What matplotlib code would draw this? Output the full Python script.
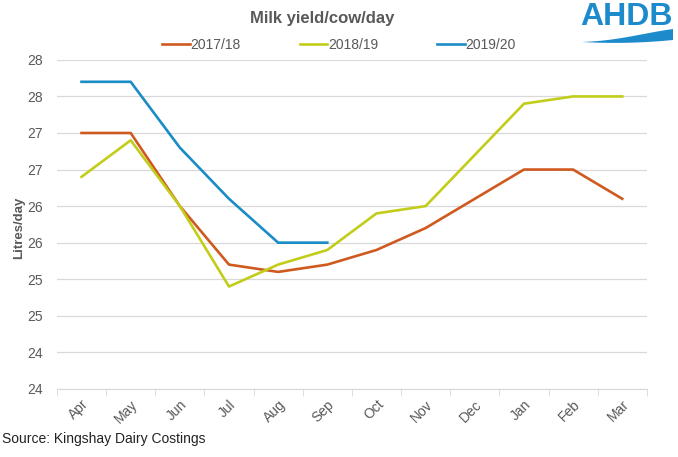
"""Milk yield per cow per day, three milk years."""

import matplotlib

matplotlib.use("Agg")

import matplotlib.pyplot as plt
import numpy as np
from matplotlib.patches import Polygon

months = ["Apr", "May", "Jun", "Jul", "Aug", "Sep", "Oct", "Nov", "Dec", "Jan", "Feb", "Mar"]
yield_1718 = [27.5, 27.5, 26.5, 25.7, 25.6, 25.7, 25.9, 26.2, 26.6, 27.0, 27.0, 26.6]
yield_1819 = [26.9, 27.4, 26.5, 25.4, 25.7, 25.9, 26.4, 26.5, 27.2, 27.9, 28.0, 28.0]
yield_1920 = [28.2, 28.2, 27.3, 26.6, 26.0, 26.0]
y_ticks = [24.0, 24.5, 25.0, 25.5, 26.0, 26.5, 27.0, 27.5, 28.0, 28.5]
y_tick_labels = ["24", "24", "25", "25", "26", "26", "27", "27", "28", "28"]

_ORANGE = "#cf5a1f"
_LIME = "#c2cd1a"
_BLUE = "#1a8cc6"
_INK = "#595959"
_GRID = "#d9d9d9"
_LOGO = "#1d8bcb"

plt.rcParams["font.family"] = ["Liberation Sans", "DejaVu Sans"]

W, H = 678, 457
fig = plt.figure(figsize=(W / 100, H / 100), dpi=100, facecolor="white")
ax = fig.add_axes([0.084, 0.149, 0.870, 0.720])

x = np.arange(len(months))
ax.plot(x, yield_1718, color=_ORANGE, lw=1.9, label="2017/18")
ax.plot(x, yield_1819, color=_LIME, lw=1.9, label="2018/19")
ax.plot(np.arange(len(yield_1920)), yield_1920, color=_BLUE, lw=1.9, label="2019/20")

ax.set_xlim(-0.5, len(months) - 0.5)
ax.set_ylim(y_ticks[0], y_ticks[-1])
ax.set_yticks(y_ticks)
ax.set_yticklabels(y_tick_labels)
ax.set_xticks(x)
ax.set_xticklabels(months, rotation=45, ha="right", rotation_mode="anchor")
ax.set_xticks(np.arange(len(months) + 1) - 0.5, minor=True)
ax.tick_params(axis="x", which="major", length=0, pad=6, colors=_INK, labelsize=10)
ax.tick_params(axis="x", which="minor", length=5, color=_GRID)
ax.tick_params(axis="y", length=0, pad=10, colors=_INK, labelsize=10)
ax.grid(True, axis="y", color=_GRID, lw=0.9)
ax.set_axisbelow(True)
for side in ("top", "right", "left"):
    ax.spines[side].set_visible(False)
ax.spines["bottom"].set_color(_GRID)

ax.set_ylabel("Litres/day", color=_INK, fontsize=9.5, fontweight="bold")
ax.yaxis.set_label_coords(-0.0535, 0.49)

fig.text(0.475, 0.96, "Milk yield/cow/day", ha="center", va="center",
         color=_INK, fontsize=12, fontweight="bold")
fig.legend(loc="center", bbox_to_anchor=(0.5, 0.902), ncol=3, frameon=False,
           fontsize=10, labelcolor=_INK, handlelength=2.0, handletextpad=0.05,
           columnspacing=4.25)

fig.text(0.003, 0.04, "Source: Kingshay Dairy Costings", ha="left", va="center",
         color="#222222", fontsize=10)

# AHDB logo: wordmark with a swoosh underneath (pixel coords -> figure fraction)
fig.text(626 / W, 1 - 17 / H, "AHDB", ha="center", va="center", color=_LOGO,
         fontsize=23, fontweight="bold")
t = np.linspace(0, 1, 50)
wave_x = 582 + 91 * t
wave_top = 42 - 13 * t + 3 * np.sin(np.pi * t) * (1 - t)
wave_bottom = 42 + 7 * t * (1 - t) - 2 * t
outline = np.column_stack([np.r_[wave_x, wave_x[::-1]] / W,
                           1 - np.r_[wave_top, wave_bottom[::-1]] / H])
fig.patches.append(Polygon(outline, closed=True, transform=fig.transFigure,
                           color=_LOGO, lw=0))

fig.savefig("out.png", dpi=100, facecolor="white")
